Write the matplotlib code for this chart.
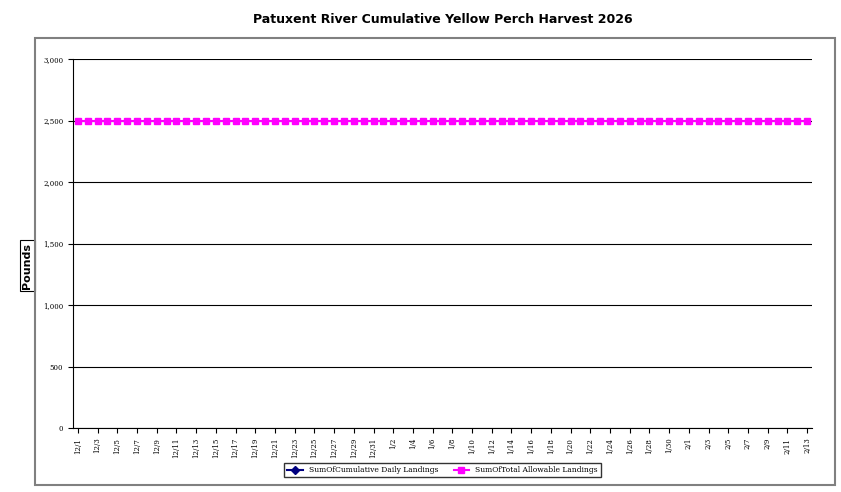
import matplotlib
matplotlib.use("Agg")
import matplotlib.pyplot as plt
import matplotlib.patches as mpatches
import datetime as dt

start = dt.date(2025, 12, 1)
dates = [start + dt.timedelta(days=i) for i in range(75)]
labels = [f"{d.month}/{d.day}" for d in dates]
cumulative = []  # no landings reported
allowable = [2500] * len(dates)

fig = plt.figure(figsize=(8.41, 4.92), dpi=100)
fig.patches.append(mpatches.Rectangle((35/841, 1-485/492), 800/841, 447/492, transform=fig.transFigure,
                                      fill=False, edgecolor='#808080', linewidth=1.5))
ax = fig.add_axes([73/841, 1-428/492, 739/841, 369/492])
x = list(range(len(dates)))
ax.plot([], [], color='#000080', marker='D', markersize=4, label='SumOfCumulative Daily Landings')
ax.plot(x, allowable, color='#FF00FF', marker='s', markersize=5, linewidth=1.5,
        label='SumOfTotal Allowable Landings')
ax.set_xlim(-0.5, len(dates) - 0.5)
ax.set_ylim(0, 3000)
ax.set_yticks(range(0, 3001, 500))
ax.set_yticklabels([f"{v:,}" for v in range(0, 3001, 500)], fontsize=5, family='DejaVu Serif')
ax.set_xticks(x[::2])
ax.set_xticklabels(labels[::2], rotation=90, fontsize=5, family='DejaVu Serif')
ax.grid(axis='y', color='black', linewidth=0.8)
for s in ['top', 'right']:
    ax.spines[s].set_visible(False)
ax.set_title('Patuxent River Cumulative Yellow Perch Harvest 2026', fontsize=9, fontweight='bold', pad=26)
ax.set_ylabel('Pounds', fontsize=8, fontweight='bold',
              bbox=dict(facecolor='white', edgecolor='black', linewidth=0.8, pad=2))
ax.yaxis.set_label_coords(-0.055, 0.44)
ax.legend(loc='upper center', bbox_to_anchor=(0.5, -0.085), ncol=2, fontsize=5.5, frameon=True,
          fancybox=False, edgecolor='black', prop={'family': 'DejaVu Serif', 'size': 5.5})
fig.savefig('out.png', dpi=100)
